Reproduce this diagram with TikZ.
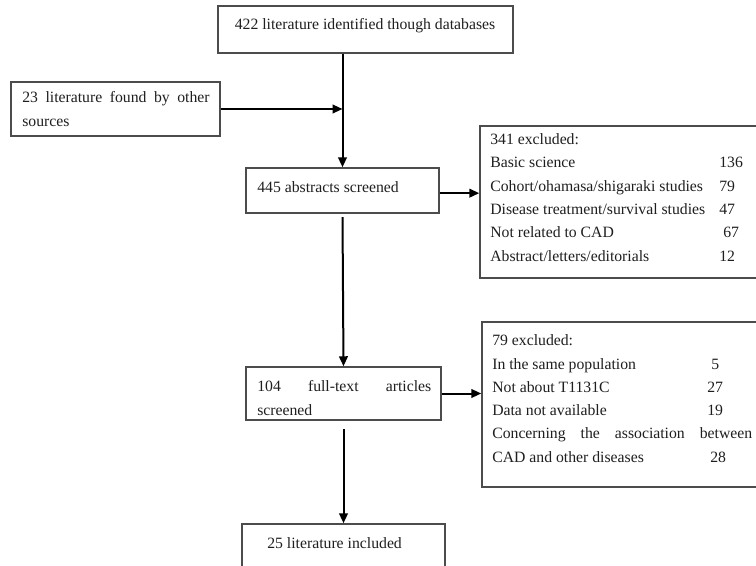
\documentclass[tikz,border=0pt]{standalone}
\usepackage{fontspec}
\setmainfont{Liberation Serif}
\usetikzlibrary{arrows.meta,fit}
\begin{document}
\begin{tikzpicture}[x=0.75pt,y=-0.75pt,
  box/.style={draw=black!70, line width=1.1pt, fill=white, inner sep=0pt, rectangle},
  txt/.style={inner sep=0pt, anchor=base west, font=\fontsize{11.8pt}{14pt}\selectfont, text=black!88},
  conn/.style={draw=black, line width=1.5pt, -{Triangle[length=7.5pt,width=6.5pt]}},
  plain/.style={draw=black, line width=1.5pt}]
\useasboundingbox (0,0) rectangle (756,566);
\clip (0,0) rectangle (756,566);
\fill[white] (0,0) rectangle (756,566);

% boxes
\node[box, fit={(218,6) (513,53)}] (b1) {};
\node[box, fit={(11,82) (220,136)}] (b2) {};
\node[box, fit={(246,168) (439,213)}] (b445) {};
\node[box, fit={(480,126) (764,278)}] (b341) {};
\node[box, fit={(246,367) (441,420)}] (b104) {};
\node[box, fit={(482,322) (764,487)}] (b79) {};
\node[box, fit={(242,524) (445,590)}] (b25) {};

% texts
\node[txt, anchor=base] (t1) at (365,30) {422 literature identified though databases};
\node[txt] (t2a) at (22,103) {\makebox[140.5pt][s]{23 literature found by other}};
\node[txt] (t2b) at (22,127) {sources};
\node[txt] (t445) at (257,193) {445 abstracts screened};

\node[txt] (e0) at (490,145) {341 excluded:};
\node[txt] (e1) at (490,168) {Basic science};
\node[txt] (e2) at (490,192) {Cohort/ohamasa/shigaraki studies};
\node[txt] (e3) at (490,215) {Disease treatment/survival studies};
\node[txt] (e4) at (490,238) {Not related to CAD};
\node[txt] (e5) at (490,262) {Abstract/letters/editorials};
\node[txt] (n1) at (719,168) {136};
\node[txt] (n2) at (719,192) {79};
\node[txt] (n3) at (719,215) {47};
\node[txt] (n4) at (723,238) {67};
\node[txt] (n5) at (719,262) {12};

\node[txt] (t104a) at (257,391) {\makebox[130.5pt][s]{104 full-text articles}};
\node[txt] (t104b) at (257,415) {screened};

\node[txt] (f0) at (492,345) {79 excluded:};
\node[txt] (f1) at (492,369) {In the same population};
\node[txt] (f2) at (492,392) {Not about T1131C};
\node[txt] (f3) at (492,415) {Data not available};
\node[txt] (f4) at (492,438) {\makebox[195pt][s]{Concerning the association between}};
\node[txt] (f5) at (492,462) {CAD and other diseases};
\node[txt] (m1) at (711,369) {5};
\node[txt] (m2) at (707,392) {27};
\node[txt] (m3) at (707,415) {19};
\node[txt] (m5) at (710,462) {28};

\node[txt] (t25) at (267,548) {25 literature included};

% connectors
\draw[conn] (b445.north |- b1.south) -- (b445.north);
\draw[conn] (b2.east) -- (b2.east -| b445.north);
\draw[conn] ([yshift=-2pt]b445.east) -- ([yshift=-2pt]b445.east -| b341.west);
\draw[conn] ([yshift=-2.5pt]b445.south) -- (b104.north);
\draw[conn] (b104.east) -- (b104.east -| b79.west);
\draw[conn] ([yshift=-6.5pt]b104.south) -- (b25.north);
\end{tikzpicture}
\end{document}
